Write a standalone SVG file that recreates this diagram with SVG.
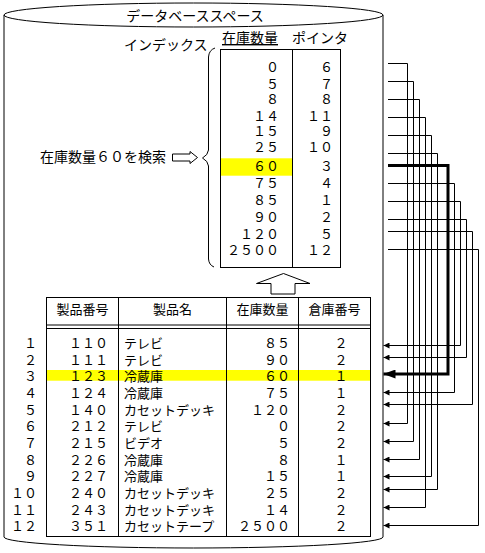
<svg xmlns="http://www.w3.org/2000/svg" width="485" height="553" viewBox="0 0 485 553">
<style>
text{font-family:"Noto Sans CJK JP","Noto Sans CJK SC",sans-serif;font-size:13px;fill:#000}
.big{font-size:14px}
.e{text-anchor:end}
.m{text-anchor:middle}
.ln{fill:none;stroke:#000;stroke-width:1}
.hl{fill:#ffff00}
.c{fill:none;stroke:#000;stroke-width:1;marker-end:url(#ah)}
.ct{fill:none;stroke:#000;stroke-width:3;marker-end:url(#ahb)}
</style>
<defs>
<marker id="ah" viewBox="0 0 6 6" refX="6" refY="3" markerWidth="6" markerHeight="6" markerUnits="userSpaceOnUse" orient="auto"><path d="M0,0L6,3L0,6Z" fill="#000"/></marker>
<marker id="ahb" viewBox="0 0 12 9" refX="12" refY="4.5" markerWidth="12" markerHeight="9" markerUnits="userSpaceOnUse" orient="auto"><path d="M0,0L12,4.5L0,9Z" fill="#000"/></marker>
</defs>
<rect width="485" height="553" fill="#fff"/>
<g id="database">
<path class="ln" d="M4,15 L4,537 A189.5,11 0 0 0 383,537 L383,15"/>
<ellipse class="ln" cx="193.5" cy="15" rx="189.5" ry="12" fill="#fff"/>
<text class="big m" x="195" y="21">データベーススペース</text>
</g>
<g id="index">
<text class="big" x="124" y="50">インデックス</text>
<path class="ln" d="M215,48 Q209,50 208.5,57 L208.5,150 Q208,155 202.5,158 Q208,161 208.5,166 L208.5,259 Q209,265 214,267"/>
<text class="big" x="222" y="43" text-decoration="underline">在庫数量</text>
<text class="big" x="292" y="43">ポインタ</text>
<rect class="hl" x="221" y="158.3" width="71" height="17.4"/>
<rect class="ln" x="220.5" y="49.5" width="120" height="218"/>
<line class="ln" x1="292.5" y1="49.5" x2="292.5" y2="267.5"/>
<g class="e">
<text x="279" y="72">０</text><text x="333" y="72">６</text>
<text x="279" y="88.5">５</text><text x="333" y="88.5">７</text>
<text x="279" y="104">８</text><text x="333" y="104">８</text>
<text x="279" y="120.5">１４</text><text x="333" y="120.5">１１</text>
<text x="279" y="136">１５</text><text x="333" y="136">９</text>
<text x="279" y="152">２５</text><text x="333" y="152">１０</text>
<text x="279" y="171">６０</text><text x="333" y="171">３</text>
<text x="279" y="188">７５</text><text x="333" y="188">４</text>
<text x="279" y="205">８５</text><text x="333" y="205">１</text>
<text x="279" y="222">９０</text><text x="333" y="222">２</text>
<text x="279" y="238.5">１２０</text><text x="333" y="238.5">５</text>
<text x="279" y="254.5">２５００</text><text x="333" y="254.5">１２</text>
</g>
</g>
<g id="search">
<text class="big" x="40" y="162">在庫数量６０を検索</text>
<polygon class="ln" points="172.5,154 190,154 190,151.5 197.5,157.5 190,163.5 190,161 172.5,161"/>
</g>
<g id="uparrow">
<polygon class="ln" points="271,294 271,283.5 256.5,283.5 283.5,273.5 310,283.5 295,283.5 295,294"/>
</g>
<g id="products">
<rect class="hl" x="47" y="370" width="323.5" height="10.7"/>
<rect class="ln" x="46.5" y="297.5" width="324" height="239"/>
<line class="ln" x1="46.5" y1="325" x2="370.5" y2="325"/>
<line class="ln" x1="46.5" y1="328.5" x2="370.5" y2="328.5"/>
<line class="ln" x1="118.5" y1="297.5" x2="118.5" y2="536.5"/>
<line class="ln" x1="226.5" y1="297.5" x2="226.5" y2="536.5"/>
<line class="ln" x1="298.5" y1="297.5" x2="298.5" y2="536.5"/>
<g class="m big">
<text x="82.5" y="314">製品番号</text>
<text x="172.5" y="314">製品名</text>
<text x="262.5" y="314">在庫数量</text>
<text x="334.5" y="314">倉庫番号</text>
</g>
<g class="e">
<text x="37" y="348">１</text><text x="108" y="348">１１０</text><text x="290" y="348">８５</text>
<text x="37" y="364.5">２</text><text x="108" y="364.5">１１１</text><text x="290" y="364.5">９０</text>
<text x="37" y="381">３</text><text x="108" y="381">１２３</text><text x="290" y="381">６０</text>
<text x="37" y="398">４</text><text x="108" y="398">１２４</text><text x="290" y="398">７５</text>
<text x="37" y="414.5">５</text><text x="108" y="414.5">１４０</text><text x="290" y="414.5">１２０</text>
<text x="37" y="431">６</text><text x="108" y="431">２１２</text><text x="290" y="431">０</text>
<text x="37" y="448">７</text><text x="108" y="448">２１５</text><text x="290" y="448">５</text>
<text x="37" y="464.5">８</text><text x="108" y="464.5">２２６</text><text x="290" y="464.5">８</text>
<text x="37" y="481">９</text><text x="108" y="481">２２７</text><text x="290" y="481">１５</text>
<text x="37" y="498">１０</text><text x="108" y="498">２４０</text><text x="290" y="498">２５</text>
<text x="37" y="514.5">１１</text><text x="108" y="514.5">２４３</text><text x="290" y="514.5">１４</text>
<text x="37" y="531">１２</text><text x="108" y="531">３５１</text><text x="290" y="531">２５００</text>
</g>
<g>
<text x="124" y="348">テレビ</text>
<text x="124" y="364.5">テレビ</text>
<text x="124" y="381">冷蔵庫</text>
<text x="124" y="398">冷蔵庫</text>
<text x="124" y="414.5">カセットデッキ</text>
<text x="124" y="431">テレビ</text>
<text x="124" y="448">ビデオ</text>
<text x="124" y="464.5">冷蔵庫</text>
<text x="124" y="481">冷蔵庫</text>
<text x="124" y="498">カセットデッキ</text>
<text x="124" y="514.5">カセットデッキ</text>
<text x="124" y="531">カセットテープ</text>
</g>
<g class="m">
<text x="341" y="348">２</text>
<text x="341" y="364.5">２</text>
<text x="341" y="381">１</text>
<text x="341" y="398">１</text>
<text x="341" y="414.5">２</text>
<text x="341" y="431">２</text>
<text x="341" y="448">２</text>
<text x="341" y="464.5">１</text>
<text x="341" y="481">１</text>
<text x="341" y="498">２</text>
<text x="341" y="514.5">２</text>
<text x="341" y="531">２</text>
</g>
</g>
<g id="connectors">
<polyline class="c" points="388,63.5 407.5,63.5 407.5,423.5 383.5,423.5"/>
<polyline class="c" points="388,81.5 413.5,81.5 413.5,441.5 383.5,441.5"/>
<polyline class="c" points="388,99.5 419.5,99.5 419.5,459.5 383.5,459.5"/>
<polyline class="c" points="388,117.5 425.5,117.5 425.5,507.5 383.5,507.5"/>
<polyline class="c" points="388,135.5 431.5,135.5 431.5,476.5 383.5,476.5"/>
<polyline class="c" points="388,153.5 437.5,153.5 437.5,489.5 383.5,489.5"/>
<polyline class="ct" points="388,165.5 448,165.5 448,374 383.5,374"/>
<polyline class="c" points="388,183.5 454.5,183.5 454.5,392.5 383.5,392.5"/>
<polyline class="c" points="388,201.5 460.5,201.5 460.5,345.5 383.5,345.5"/>
<polyline class="c" points="388,219.5 466.5,219.5 466.5,357.5 383.5,357.5"/>
<polyline class="c" points="388,231.5 472.5,231.5 472.5,404.5 383.5,404.5"/>
<polyline class="c" points="388,249.5 478.5,249.5 478.5,525.5 383.5,525.5"/>
</g>
</svg>
